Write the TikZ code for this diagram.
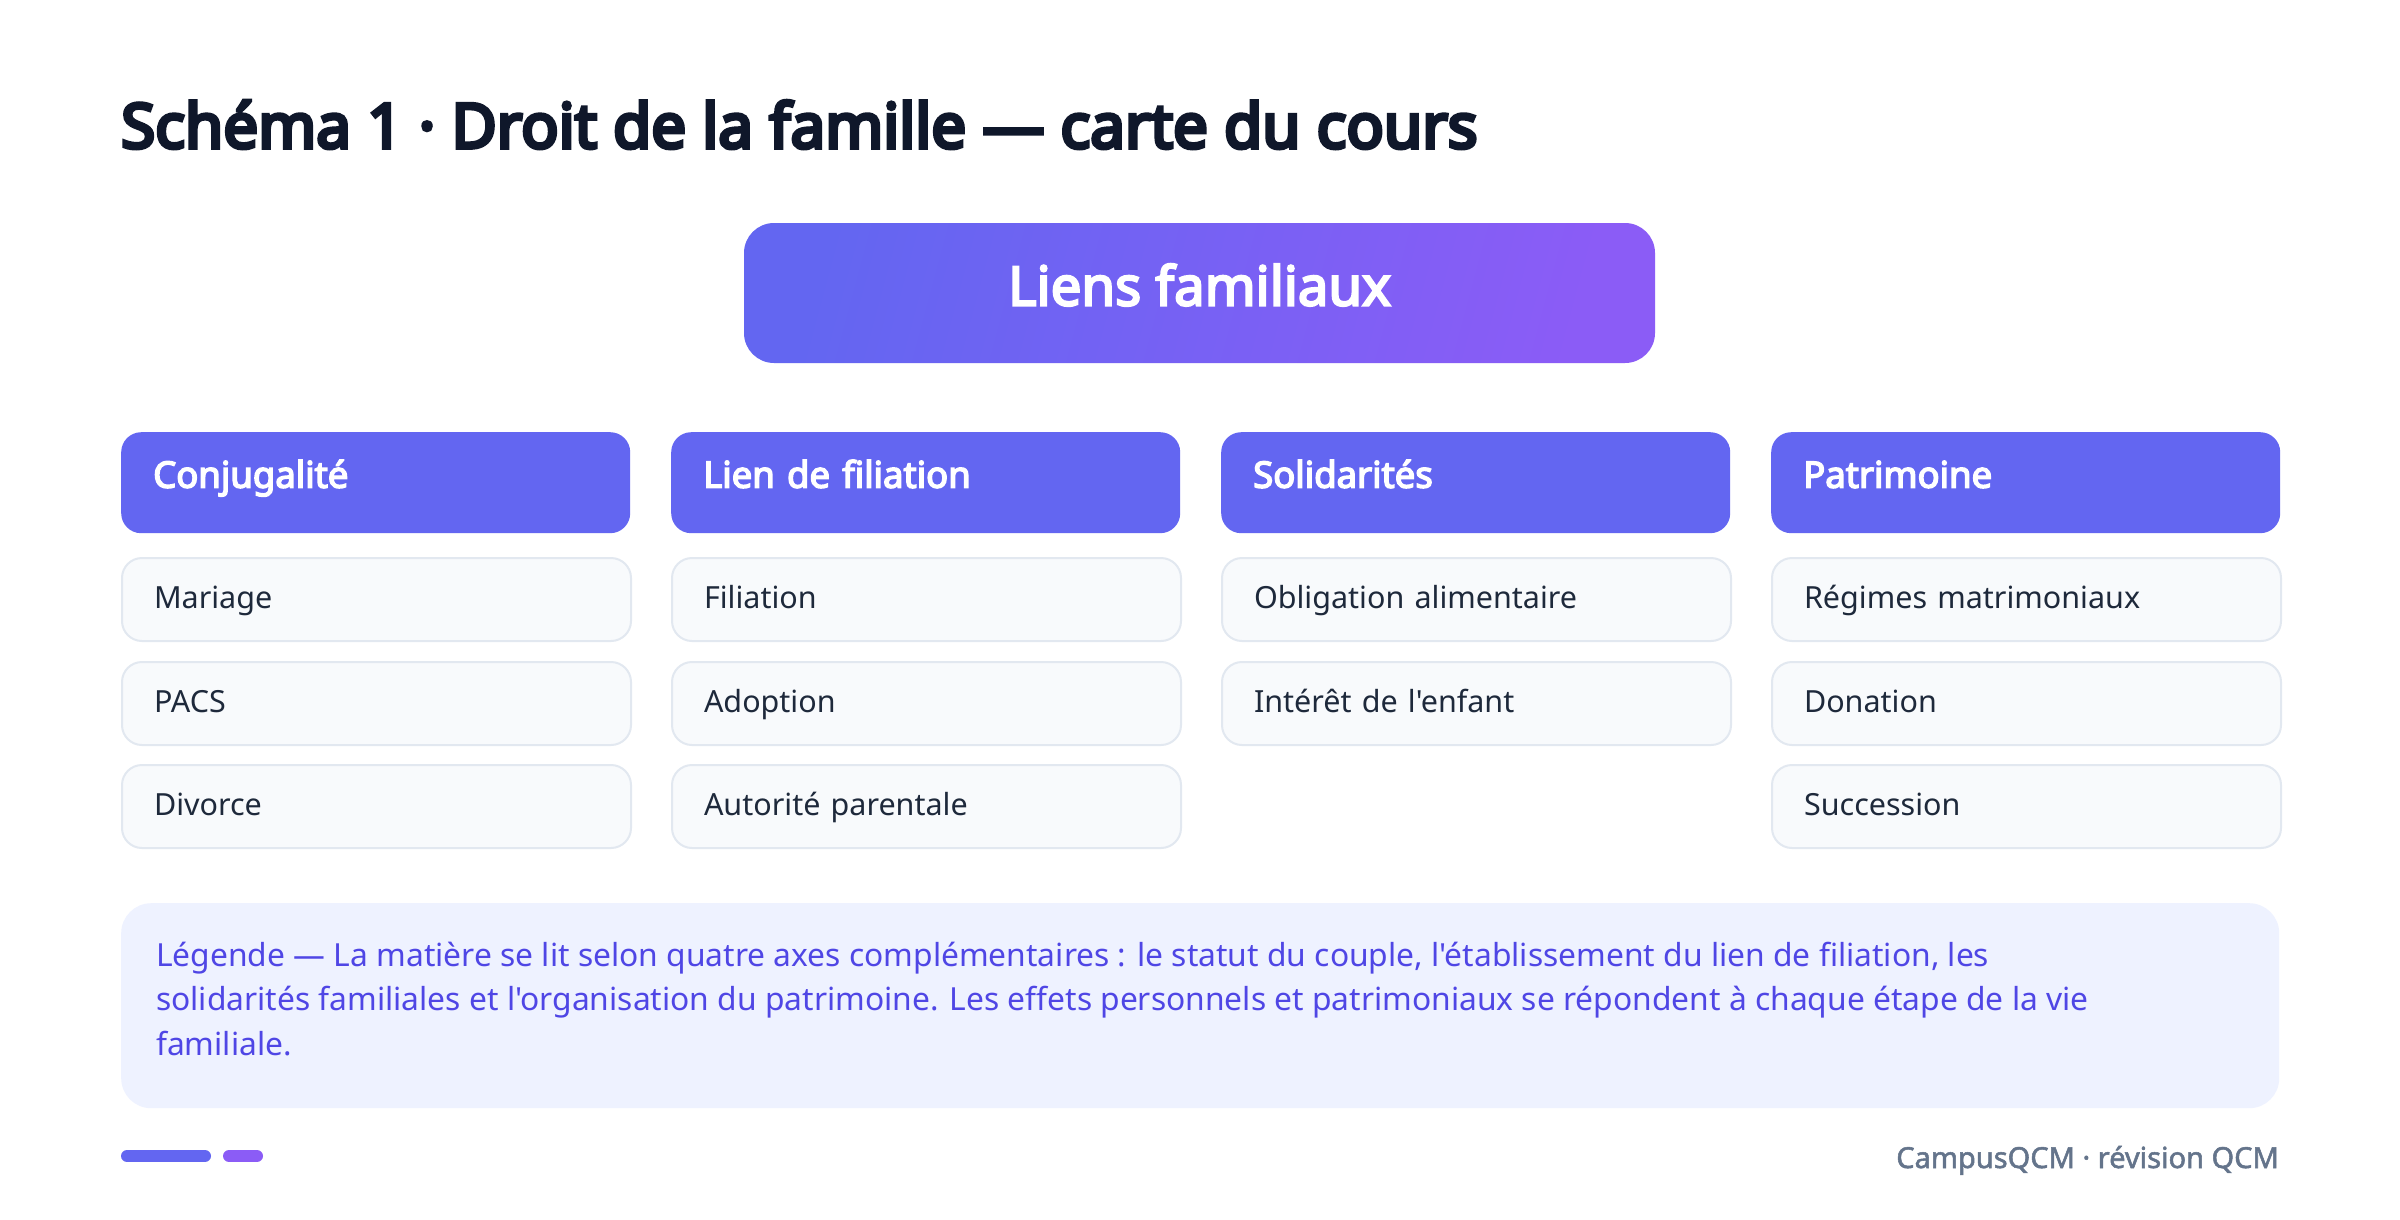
\documentclass[tikz,border=0pt]{standalone}
\usepackage{fontspec}
\newfontfamily\nf{Noto Sans}
\newfontfamily\nfb{Noto Sans}[FakeBold=4]
\newfontfamily\nfs{Noto Sans}[FakeBold=1.8]
\newfontfamily\nfh{Noto Sans}[FakeBold=6]
\definecolor{titlec}{HTML}{0F172A}
\definecolor{indA}{HTML}{6366F1}
\definecolor{indB}{HTML}{8B5CF6}
\definecolor{itemfill}{HTML}{F8FAFC}
\definecolor{itemline}{HTML}{E2E8F0}
\definecolor{itemtext}{HTML}{1E293B}
\definecolor{legfill}{HTML}{EEF2FF}
\definecolor{legtext}{HTML}{4F46E5}
\definecolor{foottext}{HTML}{64748B}
\begin{document}
\begin{tikzpicture}[x=1pt,y=-1pt,font=\nf,
  headbox/.style={fill=indA, draw=none, rounded corners=20pt, anchor=north west,
    minimum width=509pt, minimum height=101pt, inner xsep=32pt, inner ysep=0pt,
    text width=445pt, align=left, text=white,
    font=\nfb\fontsize{36.5pt}{40pt}\selectfont, text height=26pt, text depth=16pt},
  itembox/.style={fill=itemfill, draw=itemline, line width=2pt, rounded corners=20pt, anchor=north west,
    minimum width=509pt, minimum height=83pt, inner xsep=32pt, inner ysep=0pt,
    text width=445pt, align=left, text=itemtext,
    font=\nf\fontsize{30.5pt}{34pt}\selectfont, text height=22pt, text depth=5pt},
  legline/.style={anchor=base west, text=legtext, inner sep=0pt,
    font=\nf\fontsize{31.8pt}{36pt}\selectfont},
  bar/.style={line width=12pt, line cap=round}
]
\useasboundingbox[fill=white] (0,0) rectangle (2400,1219);

\node[anchor=base west, inner sep=0pt, text=titlec, font=\nfh\fontsize{62pt}{70pt}\selectfont]
  (title) at (121,148) {Schéma 1 · Droit de la famille — carte du cours};

\node[left color=indA, right color=indB, shading angle=75, rounded corners=30pt,
  minimum width=911pt, minimum height=140pt, inner sep=0pt, text=white,
  font=\nfb\fontsize{54.5pt}{58pt}\selectfont, text height=39pt, text depth=14pt]
  (root) at (1199.5,293) {Liens familiaux};

% columns
\node[headbox] (h1) at (121,432) {Conjugalité};
\node[headbox] (h2) at (671,432) {Lien de filiation};
\node[headbox] (h3) at (1221,432) {Solidarités};
\node[headbox] (h4) at (1771,432) {Patrimoine};

\node[itembox] (a1) at (121,557) {Mariage};
\node[itembox] (a2) at (121,661) {PACS};
\node[itembox] (a3) at (121,764) {Divorce};

\node[itembox] (b1) at (671,557) {Filiation};
\node[itembox] (b2) at (671,661) {Adoption};
\node[itembox] (b3) at (671,764) {Autorité parentale};

\node[itembox] (c1) at (1221,557) {Obligation alimentaire};
\node[itembox] (c2) at (1221,661) {Intérêt de l'enfant};

\node[itembox] (d1) at (1771,557) {Régimes matrimoniaux};
\node[itembox] (d2) at (1771,661) {Donation};
\node[itembox] (d3) at (1771,764) {Succession};

% legend
\node[fill=legfill, rounded corners=30pt, anchor=north west, minimum width=2158pt,
  minimum height=205pt, inner sep=0pt] (legend) at (121,903) {};
\node[legline] (l1) at (156,966) {Légende — La matière se lit selon quatre axes complémentaires : le statut du couple, l'établissement du lien de filiation, les};
\node[legline] (l2) at (156,1010.5) {solidarités familiales et l'organisation du patrimoine. Les effets personnels et patrimoniaux se répondent à chaque étape de la vie};
\node[legline] (l3) at (156,1055) {familiale.};

% footer
\coordinate (b1s) at (127,1156);
\coordinate (b1e) at (205,1156);
\coordinate (b2s) at (229,1156);
\coordinate (b2e) at (257,1156);
\draw[bar, indA] (b1s) -- (b1e);
\draw[bar, indB] (b2s) -- (b2e);
\node[anchor=base east, inner sep=0pt, text=foottext, font=\nfs\fontsize{29pt}{32pt}\selectfont]
  (foot) at (2279,1168) {CampusQCM · révision QCM};
\end{tikzpicture}
\end{document}
